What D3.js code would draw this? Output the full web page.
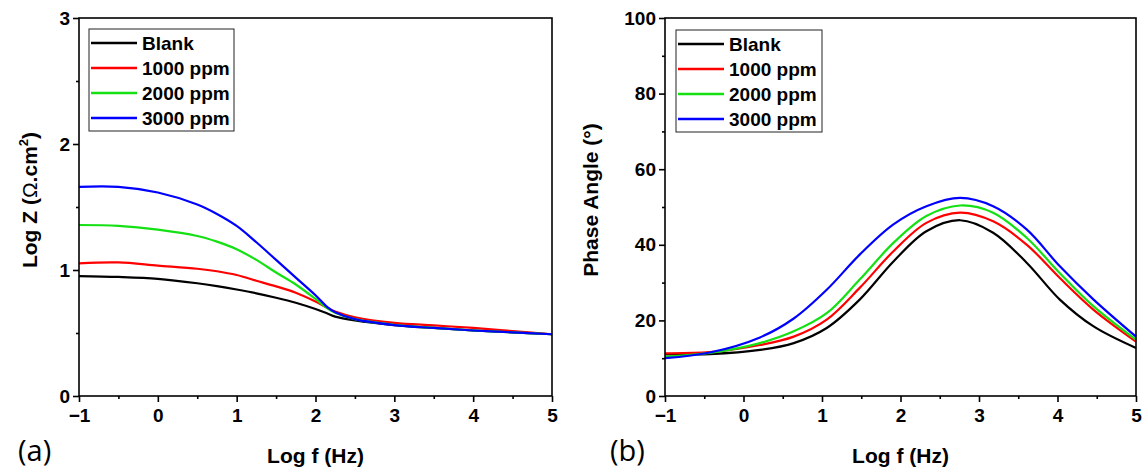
<!DOCTYPE html>
<html><head><meta charset="utf-8">
<script src="https://cdn.jsdelivr.net/npm/d3@7"></script>
<style>body{margin:0;background:#fff}svg{display:block}</style>
</head><body>
<svg id="c" width="1147" height="470"></svg>
<script>
// ---- data ----
const seriesNames = ["Blank", "1000 ppm", "2000 ppm", "3000 ppm"];
const seriesColors = ["#000000", "#ff0000", "#14e014", "#0000ff"];

// Panel (a): Log Z vs Log f
const logfA = [-1, -0.5, 0, 0.5, 0.75, 1, 1.25, 1.5, 1.75, 2, 2.15, 2.25, 2.5, 3, 3.5, 4, 4.5, 5];
const logZBlank = [0.952, 0.945, 0.93, 0.895, 0.872, 0.845, 0.815, 0.78, 0.74, 0.69, 0.655, 0.63, 0.60, 0.563, 0.54, 0.52, 0.505, 0.49];
const logZ1000  = [1.053, 1.06, 1.035, 1.01, 0.99, 0.96, 0.915, 0.87, 0.82, 0.75, 0.70, 0.67, 0.625, 0.58, 0.56, 0.54, 0.515, 0.49];
const logZ2000  = [1.357, 1.35, 1.32, 1.27, 1.225, 1.165, 1.08, 0.98, 0.885, 0.77, 0.695, 0.66, 0.61, 0.565, 0.54, 0.52, 0.505, 0.49];
const logZ3000  = [1.66, 1.66, 1.615, 1.52, 1.445, 1.35, 1.22, 1.08, 0.94, 0.80, 0.705, 0.665, 0.61, 0.563, 0.54, 0.52, 0.505, 0.49];

// Panel (b): Phase angle vs Log f
const logfB = [-1, -0.43, 0.21, 0.64, 1.06, 1.48, 1.91, 2.33, 2.76, 3.18, 3.61, 4.03, 4.46, 5];
const phaseBlank = [11.0, 11.1, 12.2, 14.0, 18.0, 25.5, 35.6, 43.6, 46.5, 43.2, 35.2, 25.5, 18.4, 12.7];
const phase1000  = [11.3, 11.6, 13.5, 15.7, 20.2, 28.6, 38.3, 45.8, 48.5, 46.2, 40.0, 31.2, 22.8, 14.4];
const phase2000  = [10.4, 11.4, 14.0, 17.1, 21.9, 30.8, 40.5, 47.6, 50.4, 48.5, 41.8, 32.5, 23.7, 14.9];
const phase3000  = [10.0, 11.5, 15.5, 20.5, 28.1, 37.4, 45.4, 50.2, 52.4, 50.2, 44.0, 34.3, 25.5, 15.7];

const xTicks = [-1, 0, 1, 2, 3, 4, 5];
const yTicksA = [0, 1, 2, 3];
const yTicksB = [0, 20, 40, 60, 80, 100];

const svg = d3.select("#c");
const FONT = "'Liberation Sans', Arial, sans-serif";

function panel(opts) {
  const {x0, x1, y0, y1, xDomain, yDomain, yTicks, yMinor, xMinor, xs, ys, legend, ylabel, ylabelX, tag, tagX} = opts;
  const x = d3.scaleLinear().domain(xDomain).range([x0, x1]);
  const y = d3.scaleLinear().domain(yDomain).range([y1, y0]);
  const g = svg.append("g");

  // lines
  const line = d3.line().curve(d3.curveCatmullRom.alpha(0.5));
  ys.forEach((vals, i) => {
    g.append("path")
      .attr("d", line(vals.map((v, j) => [x(xs[j]), y(v)])))
      .attr("fill", "none").attr("stroke", seriesColors[i]).attr("stroke-width", 2.2)
      .attr("stroke-linejoin", "round");
  });

  // frame
  g.append("rect").attr("x", x0).attr("y", y0).attr("width", x1 - x0).attr("height", y1 - y0)
    .attr("fill", "none").attr("stroke", "#000").attr("stroke-width", 1.6);

  // axes
  const xAxis = d3.axisBottom(x).tickValues(xTicks).tickSize(6).tickPadding(4).tickFormat(d3.format("d"));
  const gx = g.append("g").attr("transform", `translate(0,${y1})`).call(xAxis);
  const gxm = g.append("g").attr("transform", `translate(0,${y1})`)
    .call(d3.axisBottom(x).tickValues(xMinor).tickSize(3).tickFormat(""));
  const yAxis = d3.axisLeft(y).tickValues(yTicks).tickSize(6).tickPadding(3).tickFormat(d3.format("d"));
  const gy = g.append("g").attr("transform", `translate(${x0},0)`).call(yAxis);
  const gym = g.append("g").attr("transform", `translate(${x0},0)`)
    .call(d3.axisLeft(y).tickValues(yMinor).tickSize(3).tickFormat(""));
  [gx, gxm, gy, gym].forEach(a => {
    a.select(".domain").remove();
    a.selectAll("line").attr("stroke", "#000").attr("stroke-width", 1.6);
    a.selectAll("text").attr("font-family", FONT).attr("font-weight", "bold")
      .attr("font-size", 19).attr("fill", "#000");
  });
  gx.selectAll("text").attr("dy", "0.85em");

  // x label
  g.append("text").attr("x", (x0 + x1) / 2).attr("y", 463).attr("text-anchor", "middle")
    .attr("font-family", FONT).attr("font-weight", "bold").attr("font-size", 21).text("Log f (Hz)");
  // panel tag
  g.append("text").attr("x", tagX).attr("y", 461).attr("font-family", "'Open Sans', 'Noto Sans', sans-serif")
    .attr("font-size", 29).text(tag);
  // y label
  const yl = g.append("text").attr("transform", `translate(${ylabelX},${200}) rotate(-90)`)
    .attr("text-anchor", "middle").attr("font-family", FONT).attr("font-weight", "bold").attr("font-size", 21);
  ylabel(yl);

  // legend
  const lg = g.append("g");
  lg.append("rect").attr("x", legend.x).attr("y", legend.y).attr("width", legend.w).attr("height", legend.h)
    .attr("fill", "#fff").attr("stroke", "#222").attr("stroke-width", 1);
  seriesNames.forEach((name, i) => {
    const cy = legend.y + 14 + i * 25;
    lg.append("line").attr("x1", legend.x + 2).attr("x2", legend.x + 48).attr("y1", cy).attr("y2", cy)
      .attr("stroke", seriesColors[i]).attr("stroke-width", 2.4);
    lg.append("text").attr("x", legend.x + 53).attr("y", cy).attr("dy", "0.36em")
      .attr("font-family", FONT).attr("font-weight", "bold").attr("font-size", 19).text(name);
  });
}

panel({
  x0: 79, x1: 552, y0: 18, y1: 396,
  xDomain: [-1, 5], yDomain: [0, 3],
  yTicks: yTicksA, yMinor: [0.5, 1.5, 2.5], xMinor: [-0.5, 0.5, 1.5, 2.5, 3.5, 4.5],
  xs: logfA, ys: [logZBlank, logZ1000, logZ2000, logZ3000],
  legend: {x: 89, y: 29, w: 145, h: 102},
  tag: "(a)", tagX: 18, ylabelX: 37,
  ylabel: t => {
    t.append("tspan").text("Log Z (");
    t.append("tspan").attr("font-weight", "normal").text("Ω");
    t.append("tspan").text(".cm");
    t.append("tspan").attr("font-size", 13).attr("dy", -9).text("2");
    t.append("tspan").attr("dy", 9).text(")");
  }
});

panel({
  x0: 665, x1: 1136, y0: 18, y1: 396,
  xDomain: [-1, 5], yDomain: [0, 100],
  yTicks: yTicksB, yMinor: [10, 30, 50, 70, 90], xMinor: [-0.5, 0.5, 1.5, 2.5, 3.5, 4.5],
  xs: logfB, ys: [phaseBlank, phase1000, phase2000, phase3000],
  legend: {x: 676, y: 30, w: 146, h: 102},
  tag: "(b)", tagX: 610, ylabelX: 598,
  ylabel: t => { t.text("Phase Angle (°)"); }
});
</script>
</body></html>
